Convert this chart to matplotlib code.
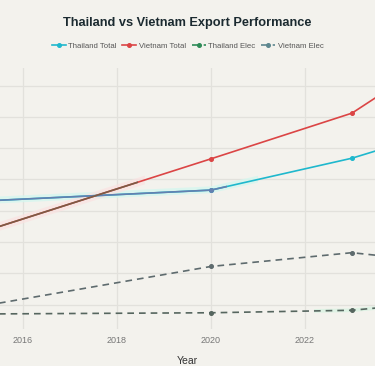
import numpy as np
import matplotlib
matplotlib.use("Agg")
from matplotlib import pyplot as plt
from matplotlib.patches import Rectangle

plt.rcParams['font.family'] = ['Liberation Sans', 'DejaVu Sans']

# export values, billion USD
years = [2015, 2020, 2023, 2024]
thai_total = [215, 233, 284, 307]
viet_total = [163, 283, 356, 405]
thai_elec = [35, 37, 41, 48]
viet_elec = [46, 111, 133, 125]
tick_years = [2016, 2018, 2020, 2022]

bg = '#f3f2ed'
fig = plt.figure(figsize=(3.75, 3.66), dpi=100, facecolor=bg)
ax = fig.add_axes([0, 0.101, 1, 0.713])
ax.set_facecolor(bg)

# light bands around the early parts of the total lines
x = np.array(years)
band_t = ax.fill_between(x, np.array(thai_total) - 5, np.array(thai_total) + 6,
                         color='#d5f7ef', alpha=0.8, lw=0, zorder=1)
band_v = ax.fill_between(x, np.array(viet_total) - 7, np.array(viet_total) + 7,
                         color='#fbe1e1', alpha=0.7, lw=0, zorder=1)
band_e = ax.fill_between(x, np.array(thai_elec) - 3, np.array(thai_elec) + 3,
                         color='#d9f2e2', alpha=0.8, lw=0, zorder=1)
band_t.set_clip_path(Rectangle((2015, 0), 6.0, 500, transform=ax.transData))
band_v.set_clip_path(Rectangle((2015, 0), 3.6, 500, transform=ax.transData))
band_e.set_clip_path(Rectangle((2022.2, 0), 3, 500, transform=ax.transData))

ms = 2.6
ax.plot(years, thai_total, color='#1FB8CD', lw=1.2, marker='o', ms=ms, zorder=3,
        label='Thailand Total')
ax.plot(years, viet_total, color='#DB4545', lw=1.2, marker='o', ms=ms, zorder=3,
        label='Vietnam Total')
ax.plot(years, thai_elec, color='#2E8B57', lw=1.2, ls=(0, (4, 3)), marker='o', ms=ms,
        zorder=3, label='Thailand Elec')
ax.plot(years, viet_elec, color='#5D878F', lw=1.2, ls=(0, (4, 3)), marker='o', ms=ms,
        zorder=3, label='Vietnam Elec')

# darker tone as drawn on the chart
ax.lines[2].set_color('#56665f')
ax.lines[3].set_color('#5e6b6e')

# darker early segments
t_over, = ax.plot(years, thai_total, color='#6480b0', lw=1.2, marker='o', ms=ms, zorder=4)
v_over, = ax.plot(years, viet_total, color='#7b5b45', lw=1.2, zorder=4)
t_over.set_clip_path(Rectangle((2015, 0), 5.35, 500, transform=ax.transData))
v_over.set_clip_path(Rectangle((2015, 0), 3.45, 500, transform=ax.transData))

ax.set_xlim(2015.51, 2023.49)
ax.set_ylim(11, 428)
ax.set_xticks(tick_years)
ax.set_xticklabels([str(y) for y in tick_years])
ax.set_yticks([50, 100, 150, 200, 250, 300, 350, 400])
ax.set_yticklabels([])
ax.tick_params(axis='y', length=0)
ax.tick_params(axis='x', length=0, labelsize=6.5, labelcolor='#777777', pad=5)
ax.grid(True, color='#e2e1dc', lw=0.9)
ax.set_axisbelow(True)
for s in ax.spines.values():
    s.set_visible(False)
ax.set_xlabel('Year', fontsize=7.5, color='#333333', labelpad=8)

fig.text(0.5, 0.937, 'Thailand vs Vietnam Export Performance', ha='center', va='center',
         fontsize=9.2, fontweight='bold', color='#1b2a30')

handles = ax.lines[:4]
leg = fig.legend(handles, [h.get_label() for h in handles], loc='center',
                 bbox_to_anchor=(0.5, 0.873), ncol=4, frameon=False,
                 fontsize=5.6, handlelength=1.8, handletextpad=0.35, columnspacing=0.7,
                 labelcolor='#555555')
# legend keeps the nominal trace colours
for h, c in zip(leg.legend_handles, ['#1FB8CD', '#DB4545', '#2E8B57', '#5D878F']):
    h.set_color(c)

fig.savefig('out.png', dpi=100, facecolor=bg)
